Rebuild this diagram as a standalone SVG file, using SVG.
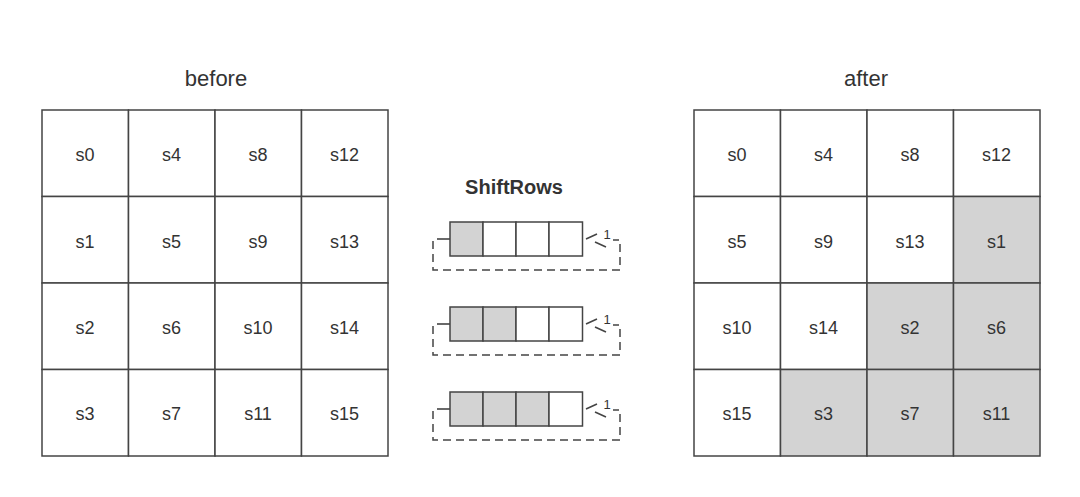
<svg xmlns="http://www.w3.org/2000/svg" width="1080" height="497" viewBox="0 0 1080 497">
<style>
.c{fill:#fff;stroke:#444;stroke-width:1.5}
.g{fill:#d3d3d3;stroke:#444;stroke-width:1.5}
.t{font-family:"Liberation Sans",Arial,sans-serif;font-size:18px;fill:#333;text-anchor:middle;dominant-baseline:central}
.h{font-family:"Liberation Sans",Arial,sans-serif;font-size:22px;fill:#333;text-anchor:middle}
.d{fill:none;stroke:#444;stroke-width:1.5;stroke-dasharray:8 5}
.l{fill:none;stroke:#444;stroke-width:1.6}
</style>
<rect width="1080" height="497" fill="#fff"/>
<text class="h" x="216" y="86">before</text>
<text class="h" x="866" y="86">after</text>
<g id="before">
<rect class="c" x="42" y="110" width="86.5" height="86.5"/><text class="t" x="85" y="155">s0</text>
<rect class="c" x="128.5" y="110" width="86.5" height="86.5"/><text class="t" x="171.5" y="155">s4</text>
<rect class="c" x="215" y="110" width="86.5" height="86.5"/><text class="t" x="258" y="155">s8</text>
<rect class="c" x="301.5" y="110" width="86.5" height="86.5"/><text class="t" x="344.5" y="155">s12</text>
<rect class="c" x="42" y="196.5" width="86.5" height="86.5"/><text class="t" x="85" y="242">s1</text>
<rect class="c" x="128.5" y="196.5" width="86.5" height="86.5"/><text class="t" x="171.5" y="242">s5</text>
<rect class="c" x="215" y="196.5" width="86.5" height="86.5"/><text class="t" x="258" y="242">s9</text>
<rect class="c" x="301.5" y="196.5" width="86.5" height="86.5"/><text class="t" x="344.5" y="242">s13</text>
<rect class="c" x="42" y="283" width="86.5" height="86.5"/><text class="t" x="85" y="328">s2</text>
<rect class="c" x="128.5" y="283" width="86.5" height="86.5"/><text class="t" x="171.5" y="328">s6</text>
<rect class="c" x="215" y="283" width="86.5" height="86.5"/><text class="t" x="258" y="328">s10</text>
<rect class="c" x="301.5" y="283" width="86.5" height="86.5"/><text class="t" x="344.5" y="328">s14</text>
<rect class="c" x="42" y="369.5" width="86.5" height="86.5"/><text class="t" x="85" y="414">s3</text>
<rect class="c" x="128.5" y="369.5" width="86.5" height="86.5"/><text class="t" x="171.5" y="414">s7</text>
<rect class="c" x="215" y="369.5" width="86.5" height="86.5"/><text class="t" x="258" y="414">s11</text>
<rect class="c" x="301.5" y="369.5" width="86.5" height="86.5"/><text class="t" x="344.5" y="414">s15</text>
</g>
<g id="after">
<rect class="c" x="694" y="110" width="86.5" height="86.5"/><text class="t" x="737" y="155">s0</text>
<rect class="c" x="780.5" y="110" width="86.5" height="86.5"/><text class="t" x="823.5" y="155">s4</text>
<rect class="c" x="867" y="110" width="86.5" height="86.5"/><text class="t" x="910" y="155">s8</text>
<rect class="c" x="953.5" y="110" width="86.5" height="86.5"/><text class="t" x="996.5" y="155">s12</text>
<rect class="c" x="694" y="196.5" width="86.5" height="86.5"/><text class="t" x="737" y="242">s5</text>
<rect class="c" x="780.5" y="196.5" width="86.5" height="86.5"/><text class="t" x="823.5" y="242">s9</text>
<rect class="c" x="867" y="196.5" width="86.5" height="86.5"/><text class="t" x="910" y="242">s13</text>
<rect class="g" x="953.5" y="196.5" width="86.5" height="86.5"/><text class="t" x="996.5" y="242">s1</text>
<rect class="c" x="694" y="283" width="86.5" height="86.5"/><text class="t" x="737" y="328">s10</text>
<rect class="c" x="780.5" y="283" width="86.5" height="86.5"/><text class="t" x="823.5" y="328">s14</text>
<rect class="g" x="867" y="283" width="86.5" height="86.5"/><text class="t" x="910" y="328">s2</text>
<rect class="g" x="953.5" y="283" width="86.5" height="86.5"/><text class="t" x="996.5" y="328">s6</text>
<rect class="c" x="694" y="369.5" width="86.5" height="86.5"/><text class="t" x="737" y="414">s15</text>
<rect class="g" x="780.5" y="369.5" width="86.5" height="86.5"/><text class="t" x="823.5" y="414">s3</text>
<rect class="g" x="867" y="369.5" width="86.5" height="86.5"/><text class="t" x="910" y="414">s7</text>
<rect class="g" x="953.5" y="369.5" width="86.5" height="86.5"/><text class="t" x="996.5" y="414">s11</text>
</g>
<text x="514" y="194" font-family="'Liberation Sans',Arial,sans-serif" font-size="20" font-weight="bold" fill="#333" text-anchor="middle">ShiftRows</text>
<defs>
<g id="loop">
<line class="l" x1="437" y1="0" x2="450" y2="0"/>
<path class="d" d="M433,2 V31 H620 V1 H613"/>
<line class="l" x1="586" y1="0" x2="597" y2="-5"/>
<line class="l" x1="595" y1="3" x2="606" y2="8"/>
<text x="607" y="0" font-family="'Liberation Sans',Arial,sans-serif" font-size="13" fill="#333" text-anchor="middle">1</text>
</g>
</defs>
<g id="row1">
<use href="#loop" y="239"/>
<rect class="g" x="450" y="222" width="33" height="34"/>
<rect class="c" x="483" y="222" width="33" height="34"/>
<rect class="c" x="516" y="222" width="33" height="34"/>
<rect class="c" x="549" y="222" width="33.5" height="34"/>
</g>
<g id="row2">
<use href="#loop" y="324"/>
<rect class="g" x="450" y="307" width="33" height="34"/>
<rect class="g" x="483" y="307" width="33" height="34"/>
<rect class="c" x="516" y="307" width="33" height="34"/>
<rect class="c" x="549" y="307" width="33.5" height="34"/>
</g>
<g id="row3">
<use href="#loop" y="409"/>
<rect class="g" x="450" y="392" width="33" height="34"/>
<rect class="g" x="483" y="392" width="33" height="34"/>
<rect class="g" x="516" y="392" width="33" height="34"/>
<rect class="c" x="549" y="392" width="33.5" height="34"/>
</g>
</svg>
